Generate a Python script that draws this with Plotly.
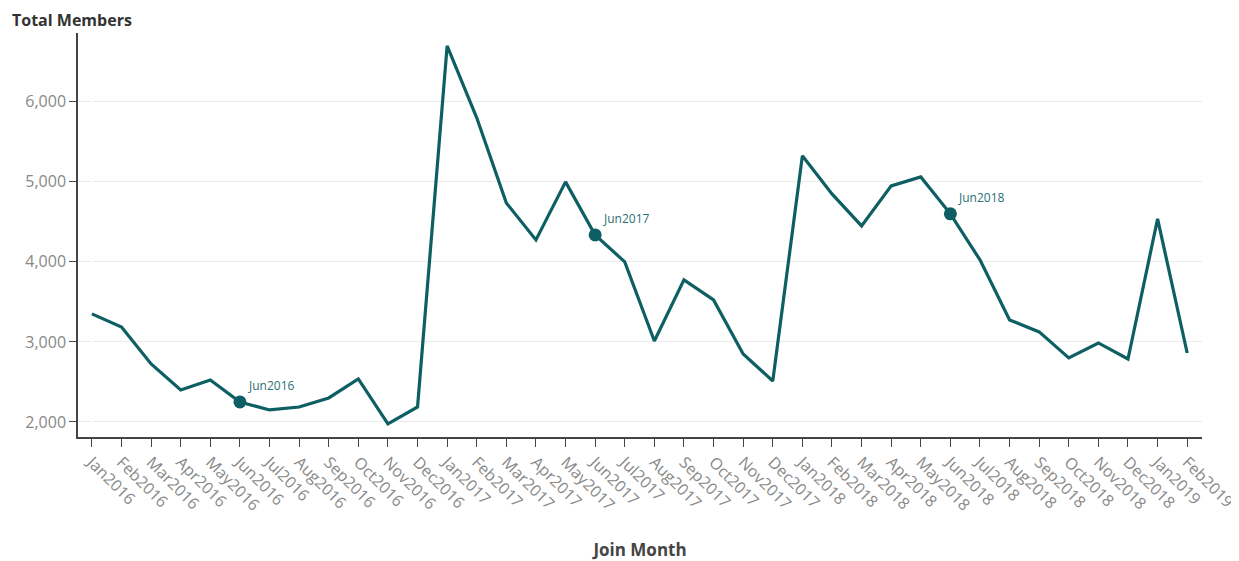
import plotly.graph_objects as go

months = ["Jan2016","Feb2016","Mar2016","Apr2016","May2016","Jun2016","Jul2016","Aug2016",
          "Sep2016","Oct2016","Nov2016","Dec2016","Jan2017","Feb2017","Mar2017","Apr2017",
          "May2017","Jun2017","Jul2017","Aug2017","Sep2017","Oct2017","Nov2017","Dec2017",
          "Jan2018","Feb2018","Mar2018","Apr2018","May2018","Jun2018","Jul2018","Aug2018",
          "Sep2018","Oct2018","Nov2018","Dec2018","Jan2019","Feb2019"]
members = [3350, 3187, 2725, 2400, 2525, 2250, 2150, 2187, 2300, 2537, 1975, 2187,
           6700, 5800, 4737, 4275, 5000, 4337, 4000, 3012, 3775, 3525, 2850, 2512,
           5325, 4850, 4450, 4950, 5062, 4600, 4025, 3275, 3125, 2800, 2987, 2787,
           4537, 2862]
highlight = ["Jun2016", "Jun2017", "Jun2018"]

teal = "#0d5f63"
font_family = "'Open Sans', sans-serif"

fig = go.Figure()
fig.add_trace(go.Scatter(x=list(range(len(months))), y=members, mode="lines",
                         line=dict(color=teal, width=3.2), hoverinfo="skip", showlegend=False))
hx = [months.index(m) for m in highlight]
hy = [members[i] for i in hx]
fig.add_trace(go.Scatter(x=hx, y=hy, mode="markers",
                         marker=dict(color=teal, size=13), showlegend=False))
for m, xi, yi in zip(highlight, hx, hy):
    fig.add_annotation(x=xi, y=yi, text=m, showarrow=False, xanchor="left", yanchor="bottom",
                       xshift=6, yshift=6, font=dict(size=12, color="#2b6f73", family=font_family))

fig.update_layout(
    width=1239, height=561,
    margin=dict(l=70, r=45, t=25, b=132),
    paper_bgcolor="white", plot_bgcolor="white",
    font=dict(family=font_family, color="#888888", size=16),
    xaxis=dict(
        tickmode="array", tickvals=list(range(len(months))), ticktext=months,
        tickangle=45, range=[-0.47, 37.5], showgrid=False, automargin=False,
        showline=True, linecolor="#444444", linewidth=1.5,
        ticks="outside", ticklen=8, tickcolor="#444444",
        tickfont=dict(size=16, color="#888888"),
        title=dict(text="<b>Join Month</b>", font=dict(size=17, color="#444444"), standoff=30),
    ),
    yaxis=dict(
        range=[1812, 6860], tickvals=[2000, 3000, 4000, 5000, 6000], tickformat=",",
        showgrid=True, gridcolor="#ebebeb", gridwidth=1, zeroline=False, automargin=False,
        showline=True, linecolor="#444444", linewidth=1.5,
        ticks="outside", ticklen=7, tickcolor="#444444",
        tickfont=dict(size=16, color="#888888"),
    ),
)
fig.add_annotation(text="<b>Total Members</b>", xref="paper", yref="paper", x=0, y=1,
                   xanchor="left", yanchor="bottom", showarrow=False, xshift=-68, yshift=0,
                   font=dict(size=16, color="#333333", family=font_family))

fig.write_html("out.html")
